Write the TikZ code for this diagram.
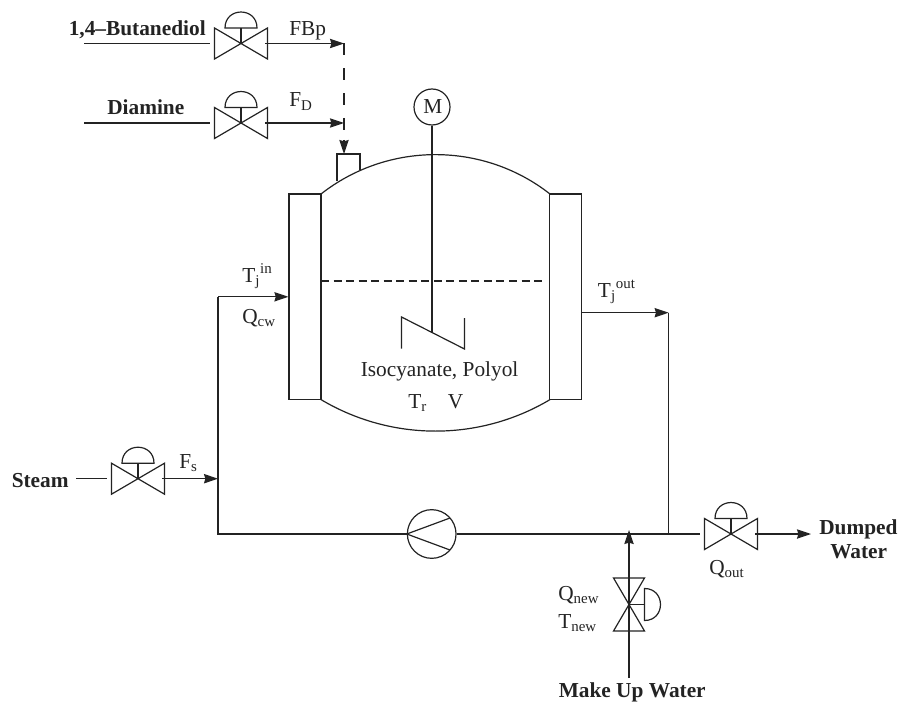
\documentclass[tikz,border=0pt]{standalone}
\usepackage{fontspec}
\setmainfont{Liberation Serif}
\usetikzlibrary{arrows.meta, positioning, calc}
\definecolor{inkgray}{RGB}{35, 35, 35}
\begin{document}
\begin{tikzpicture}[
  x=0.75pt, y=-0.75pt,
  wire/.style={draw=inkgray, line width=0.9pt},
  arr/.style={wire, -{Stealth[length=10.5pt, width=7pt, inset=1pt]}},
  label/.style={inner sep=0pt, anchor=base west, text=inkgray, font=\fontsize{16}{18}\selectfont},
  stream/.style={label, font=\fontsize{16}{18}\selectfont\bfseries},
  jacket/.style={draw=inkgray, line width=0.9pt, minimum width=24pt, minimum height=154.2pt, inner sep=0pt},
  ctrlvalve/.pic={
    \draw[wire] (-26.5,-15.5) -- (26.5,15.5) -- (26.5,-15.5) -- (-26.5,15.5) -- cycle;
    \draw[wire] (0,0) -- (0,-15.5);
    \draw[wire] (-16,-15.5) -- (16,-15.5) .. controls (16,-36.8) and (-16,-36.8) .. cycle;
    \coordinate (-in) at (-31,0);
    \coordinate (-out) at (24,0);
  }
]
  \useasboundingbox (0,0) rectangle (898,702);

  \pic (butValve) at (241,43.5) {ctrlvalve};
  \pic (diaValve) at (241,123) {ctrlvalve};
  \pic (steamValve) at (138,478.7) {ctrlvalve};
  \pic (outValve) at (731,534) {ctrlvalve};
  \pic[rotate=-90] (newValve) at (629,604.5) {ctrlvalve};

  \node[jacket] (jacketL) at (305,296.8) {};
  \node[jacket] (jacketR) at (565.8,296.8) {};
  \node[draw=inkgray, line width=0.9pt, circle, inner sep=0pt, minimum size=27pt] (motor) at (432,107) {};
  \node[draw=inkgray, line width=0.9pt, circle, inner sep=0pt, minimum size=36.5pt] (pump) at (431.7,534) {};

  \coordinate (butStart) at (84,43.5);
  \coordinate (diaStart) at (84,123);
  \coordinate (steamStart) at (76,478.7);
  \coordinate (newStart) at (629,678);
  \coordinate (butEnd) at (344,43.5);
  \coordinate (diaEnd) at (344,123);
  \coordinate (inlet) at (344,154);
  \coordinate (inletHead) at (344,140);
  \coordinate (steamEnd) at (218,478.7);
  \coordinate (loopCorner) at (218,534);
  \coordinate (jacketIn) at (218,296.8);
  \coordinate (jacketOut) at (581.6,312.7);
  \coordinate (outCorner) at (668.6,312.7);
  \coordinate (outJoin) at (668.6,534);
  \coordinate (newJoin) at (629,530);
  \coordinate (dumpEnd) at (811,534);
  \coordinate (shaftEnd) at (432,332);

  \draw[wire] (321,194) .. controls (388,141.5) and (483,141.5) .. (550,194);
  \draw[wire] (321,399.6) .. controls (391.6,441.6) and (479.4,441.6) .. (550,399.6);
  \draw[wire] (337,181.5) -- (337,154) -- (360,154) -- (360,170.5);
  \draw[wire, dash pattern=on 6pt off 3.4pt] (321,281) -- (545,281);
  \draw[wire] (401.5,348.5) -- (401.5,317) -- (464.5,349) -- (464.5,318);
  \draw[wire] (motor) -- (shaftEnd);
  \draw[wire] (pump.west) -- (450,518);
  \draw[wire] (pump.west) -- (450,550);

  \draw[wire] (butStart) -- (butValve-in);
  \draw[wire] (diaStart) -- (diaValve-in);
  \draw[wire] (steamStart) -- (steamValve-in);
  \draw[arr] (butValve-out) -- (butEnd);
  \draw[arr] (diaValve-out) -- (diaEnd);
  \draw[wire, dash pattern=on 9pt off 9.6pt] (butEnd) -- (inletHead);
  \draw[arr] (inletHead) -- (inlet);
  \draw[arr] (steamValve-out) -- (steamEnd);
  \draw[wire] (jacketIn) -- (loopCorner) -- (pump.west);
  \draw[arr] (jacketIn) -- (jacketL.west);
  \draw[arr] (jacketOut) -- (outCorner);
  \draw[wire] (outCorner) -- (outJoin);
  \draw[wire] (pump.east) -- (outValve-in);
  \draw[arr] (outValve-out) -- (dumpEnd);
  \draw[wire] (newStart) -- (newValve-in);
  \draw[arr] (newValve-out) -- (newJoin);

  \node[stream] (butLabel) at (68.5,36) {1,4--Butanediol};
  \node[stream] (diaLabel) at (107,115) {Diamine};
  \node[stream] (steamLabel) at (11.5,487) {Steam};
  \node[stream] (dumpLabel) at (819,534.3) {Dumped};
  \node[stream] (waterLabel) at (830,558) {Water};
  \node[stream] (newLabel) at (558.5,697) {Make Up Water};
  \node[label] (motorLabel) at (423,114) {M};
  \node[label] (fbpLabel) at (289,36) {FBp};
  \node[label] (fdLabel) at (289,107) {F\textsubscript{D}};
  \node[label] (fsLabel) at (179,468) {F\textsubscript{s}};
  \node[label] (tinLabel) at (242,282) {T\textsubscript{j}\textsuperscript{in}};
  \node[label] (qcwLabel) at (242,323) {Q\textsubscript{cw}};
  \node[label] (toutLabel) at (597.7,297) {T\textsubscript{j}\textsuperscript{out}};
  \node[label] (mixLabel) at (360.5,376) {Isocyanate, Polyol};
  \node[label] (trLabel) at (408,408) {T\textsubscript{r}};
  \node[label] (vLabel) at (447.5,408) {V};
  \node[label] (qoutLabel) at (709,574.5) {Q\textsubscript{out}};
  \node[label] (qnewLabel) at (558,600) {Q\textsubscript{new}};
  \node[label] (tnewLabel) at (558,628) {T\textsubscript{new}};
\end{tikzpicture}
\end{document}
